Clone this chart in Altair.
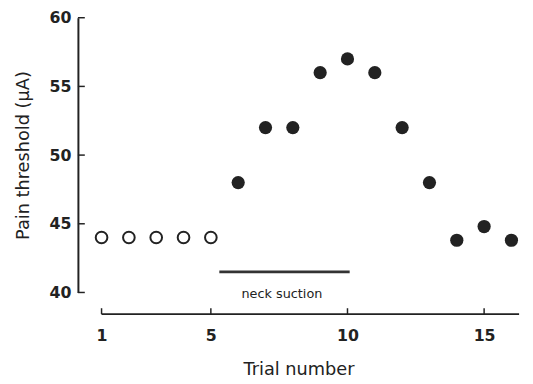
import altair as alt
import pandas as pd

# ---- data ----
trial_open = [1, 2, 3, 4, 5]
threshold_open = [44, 44, 44, 44, 44]
trial_suction = [6, 7, 8, 9, 10, 11, 12, 13, 14, 15, 16]
threshold_suction = [48, 52, 52, 56, 57, 56, 52, 48, 43.8, 44.8, 43.8]
x_ticks = [1, 5, 10, 15]
y_ticks = [40, 45, 50, 55, 60]
suction_start = [5.31]
suction_end = [10.08]
suction_level = [41.5]
suction_label = ["neck suction"]
label_pos = [7.6]

X_MIN, X_MAX = 0.135, 16.28
W, H = 448, 279
X_OFF = 22
FONT = "DejaVu Sans"
INK = "#222222"

xscale = alt.Scale(domain=[X_MIN, X_MAX], nice=False, zero=False)
yscale = alt.Scale(domain=[40, 60], nice=False, zero=False)

df_open = pd.DataFrame({"trial": trial_open, "threshold": threshold_open})
df_fill = pd.DataFrame({"trial": trial_suction, "threshold": threshold_suction})
df_xt = pd.DataFrame({"trial": x_ticks})
df_yt = pd.DataFrame({"threshold": y_ticks})
df_xdom = pd.DataFrame({"trial": [x_ticks[0]], "b": [X_MAX]})
df_bar = pd.DataFrame({"trial": suction_start, "b": suction_end, "threshold": suction_level})
df_lab = pd.DataFrame({"trial": label_pos, "threshold": suction_level, "txt": suction_label})

x_axis = alt.Axis(
    values=x_ticks, domain=False, ticks=False, grid=False, offset=X_OFF,
    labelFont=FONT, labelFontSize=16, labelFontWeight="bold", labelColor=INK,
    labelPadding=14, title="Trial number", titleFont=FONT, titleFontSize=18,
    titleFontWeight="normal", titleColor=INK, titlePadding=17,
)
y_axis = alt.Axis(
    values=y_ticks, domain=True, domainColor=INK, domainWidth=2, ticks=False,
    grid=False, labelFont=FONT, labelFontSize=16, labelFontWeight="bold",
    labelColor=INK, labelPadding=7, title="Pain threshold (µA)", titleFont=FONT,
    titleFontSize=18, titleFontWeight="normal", titleColor=INK, titlePadding=17,
)

X = alt.X("trial:Q", scale=xscale, axis=x_axis)
Y = alt.Y("threshold:Q", scale=yscale, axis=y_axis)

open_pts = alt.Chart(df_open).mark_point(
    shape="circle", size=140, filled=False, stroke=INK, strokeWidth=2, fill="white", opacity=1
).encode(x=X, y=Y)

fill_pts = alt.Chart(df_fill).mark_circle(size=180, color=INK, opacity=1).encode(x=X, y=Y)

x_domain = alt.Chart(df_xdom).mark_rule(color=INK, strokeWidth=2).encode(
    x=X, x2="b:Q", y=alt.value(H + X_OFF)
)
x_tick_rules = alt.Chart(df_xt).mark_rule(color=INK, strokeWidth=1.5).encode(
    x=X, y=alt.value(H + X_OFF - 6), y2=alt.value(H + X_OFF),
)
y_tick_rules = alt.Chart(df_yt).mark_rule(color=INK, strokeWidth=1.5).encode(
    y=Y, x=alt.value(0), x2=alt.value(7),
)

bar = alt.Chart(df_bar).mark_rule(color="#333333", strokeWidth=3).encode(
    x=X, x2="b:Q", y=Y,
)
lab = alt.Chart(df_lab).mark_text(
    font=FONT, fontSize=13, color=INK, dy=23, align="center", baseline="middle"
).encode(x=X, y=Y, text="txt:N")

chart = alt.layer(
    open_pts, fill_pts, x_domain, x_tick_rules, y_tick_rules, bar, lab
).properties(
    width=W, height=H,
    autosize=alt.AutoSizeParams(type="none"),
    padding={"left": 71, "top": 7, "right": 6, "bottom": 85},
    background="white",
).configure_view(stroke=None)

chart.save("out.html", embed_options={"renderer": "svg", "actions": False})
